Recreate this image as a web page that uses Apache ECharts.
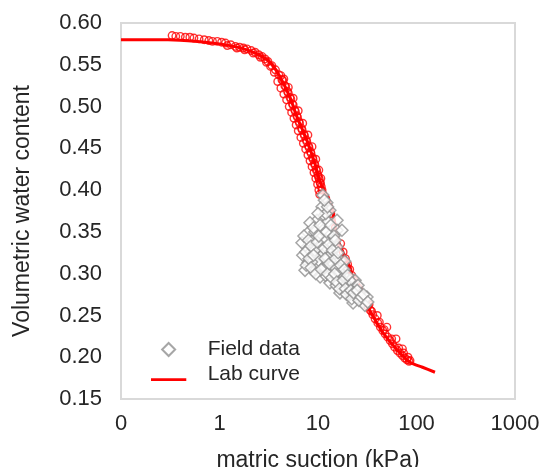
<!DOCTYPE html>
<html>
<head>
<meta charset="utf-8">
<script src="https://cdn.jsdelivr.net/npm/echarts@6/dist/echarts.min.js"></script>
<style>
html,body{margin:0;padding:0;background:#fff;}
#chart{width:542px;height:467px;}
</style>
</head>
<body>
<div id="chart"></div>
<script>
// x-axis tick values (log scale) and y range
var xTicks = [0.1, 1, 10, 100, 1000];
var yTicks = [0.15, 0.20, 0.25, 0.30, 0.35, 0.40, 0.45, 0.50, 0.55, 0.60];

// Lab curve (fitted line): [suction kPa, volumetric water content]
var labCurve = [
  [0.1, 0.580], [0.3, 0.580], [0.6, 0.578], [1.0, 0.575], [1.4, 0.572],
  [2.0, 0.567], [2.6, 0.561], [3.3, 0.552], [4.1, 0.536], [5.2, 0.511],
  [6.1, 0.488], [7.7, 0.460], [9.3, 0.432], [10.5, 0.410], [13.8, 0.379],
  [16.0, 0.340], [21.0, 0.308], [23.0, 0.293], [31.0, 0.263], [46.0, 0.229],
  [68.0, 0.205], [86.0, 0.194], [115.0, 0.188], [154.0, 0.182]
];

// Lab measured points (red open circles)
var labPoints = [
  [0.33, 0.585], [0.36, 0.584], [0.40, 0.584], [0.45, 0.583], [0.50, 0.583],
  [0.55, 0.582], [0.62, 0.581], [0.70, 0.580], [0.78, 0.579], [0.85, 0.578],
  [0.95, 0.578], [1.05, 0.577], [1.15, 0.576], [1.30, 0.574], [1.45, 0.572],
  [1.60, 0.571], [1.75, 0.570], [1.90, 0.569], [2.10, 0.567], [2.30, 0.565],
  [2.50, 0.562], [2.70, 0.560], [2.90, 0.557], [3.10, 0.554], [3.40, 0.549],
  [3.70, 0.544], [4.00, 0.538], [4.30, 0.532], [4.60, 0.525], [4.90, 0.518],
  [5.20, 0.511], [5.50, 0.503], [5.80, 0.496], [6.10, 0.489], [6.40, 0.482],
  [6.80, 0.474], [7.20, 0.467], [7.60, 0.460], [8.00, 0.453], [8.40, 0.446],
  [8.80, 0.439], [9.20, 0.432], [9.60, 0.425], [10.0, 0.418], [10.3, 0.413],
  [10.6, 0.408], [10.8, 0.404], [11.0, 0.400], [12.0, 0.390], [13.5, 0.372],
  [15.0, 0.355], [17.0, 0.336], [19.0, 0.318], [21.0, 0.305], [24.0, 0.288],
  [27.0, 0.276], [30.0, 0.266], [34.0, 0.256], [38.0, 0.246], [43.0, 0.236],
  [48.0, 0.228], [54.0, 0.220], [60.0, 0.212], [68.0, 0.205], [76.0, 0.199],
  [84.0, 0.195],
  [4.5, 0.533], [5.0, 0.523], [5.6, 0.510], [6.3, 0.495], [7.0, 0.480],
  [7.9, 0.466], [8.7, 0.452], [9.5, 0.437], [10.2, 0.424], [10.7, 0.414],
  [33.0, 0.263], [40.0, 0.250], [50.0, 0.236], [62.0, 0.222], [72.0, 0.210],
  [82.0, 0.200],
  [4.2, 0.537], [4.4, 0.531], [4.7, 0.524], [5.0, 0.516], [5.3, 0.509],
  [5.6, 0.502], [5.9, 0.494], [6.2, 0.487], [6.5, 0.480], [6.9, 0.472],
  [7.3, 0.465], [7.7, 0.458], [8.1, 0.451], [8.5, 0.444], [8.9, 0.437],
  [9.3, 0.430], [9.7, 0.423], [10.1, 0.416], [10.5, 0.409],
  [3.9, 0.530], [4.2, 0.522], [4.5, 0.515], [4.8, 0.508], [5.1, 0.500],
  [5.4, 0.493], [5.7, 0.486], [6.0, 0.478], [6.3, 0.471], [6.7, 0.463],
  [7.1, 0.456], [7.5, 0.449], [7.9, 0.442], [8.3, 0.435], [8.7, 0.428],
  [9.1, 0.421], [9.5, 0.414], [9.9, 0.407], [10.2, 0.400], [10.4, 0.395],
  [18.0, 0.326], [20.0, 0.311], [22.0, 0.298], [25.5, 0.283], [28.5, 0.271],
  [32.0, 0.261], [36.0, 0.251], [40.5, 0.241], [45.5, 0.232], [51.0, 0.224],
  [57.0, 0.216], [64.0, 0.208], [72.0, 0.202], [80.0, 0.197],
  [20.0, 0.305], [23.0, 0.292], [26.0, 0.279], [29.0, 0.268], [35.0, 0.255],
  [42.0, 0.242], [47.0, 0.233], [56.0, 0.222], [66.0, 0.211], [74.0, 0.205],
  [86.0, 0.196],
  [1.2, 0.573], [1.5, 0.570], [1.8, 0.568], [2.2, 0.564], [2.6, 0.559],
  [3.0, 0.553], [3.3, 0.548], [3.6, 0.541]
];

// Field data (grey open diamonds)
var fieldData = [
  [11.2, 0.394], [12.3, 0.385], [11.0, 0.380], [13.2, 0.376], [11.2, 0.368],
  [9.77, 0.364], [12.6, 0.362], [15.6, 0.364], [8.29, 0.361], [15.6, 0.352],
  [17.5, 0.352], [7.91, 0.349], [11.2, 0.352], [8.89, 0.340], [14.2, 0.340],
  [7.73, 0.332], [10.5, 0.332], [12.3, 0.328], [15.6, 0.332], [8.29, 0.325],
  [9.77, 0.320], [14.2, 0.320], [16.7, 0.316], [7.91, 0.313], [11.2, 0.313],
  [8.89, 0.304], [13.2, 0.304], [17.9, 0.304], [10.5, 0.296], [15.6, 0.296],
  [19.7, 0.292], [13.2, 0.289], [17.9, 0.284], [22.7, 0.284], [16.7, 0.277],
  [21.1, 0.275], [26.7, 0.277], [22.7, 0.265], [28.6, 0.266], [31.4, 0.272],
  [6.88, 0.337], [7.38, 0.304], [7.0, 0.322], [9.3, 0.350], [10.1, 0.310],
  [11.9, 0.340], [14.2, 0.312], [18.7, 0.315], [15.3, 0.286], [20.2, 0.283],
  [23.8, 0.292], [24.9, 0.271], [30.0, 0.262], [11.9, 0.298], [9.3, 0.328],
  [11.0, 0.322], [10.1, 0.316], [12.6, 0.319], [8.6, 0.314], [11.7, 0.307],
  [14.9, 0.307], [16.7, 0.302], [18.7, 0.297], [21.1, 0.292], [23.8, 0.280],
  [18.7, 0.278], [25.5, 0.286],
  [7.2, 0.345], [7.5, 0.326], [7.6, 0.310], [8.0, 0.340], [8.1, 0.318],
  [8.5, 0.333], [8.5, 0.307], [9.0, 0.355], [9.0, 0.322], [9.5, 0.300],
  [9.8, 0.338], [10.2, 0.345], [10.5, 0.358], [10.8, 0.305], [11.5, 0.330],
  [11.8, 0.318], [12.0, 0.372], [12.2, 0.350], [12.5, 0.300], [12.8, 0.335],
  [13.0, 0.312], [13.5, 0.358], [13.8, 0.295], [14.0, 0.328], [14.5, 0.345],
  [14.8, 0.300], [15.0, 0.318], [15.5, 0.290], [16.0, 0.325], [16.5, 0.282],
  [17.0, 0.310], [15.0, 0.340], [18.0, 0.292], [18.5, 0.305], [19.0, 0.282],
  [19.5, 0.275], [20.0, 0.298], [21.5, 0.280], [22.0, 0.270], [23.0, 0.277],
  [25.0, 0.280], [26.0, 0.268], [27.5, 0.272], [29.0, 0.275], [32.0, 0.266],
  [12.5, 0.380], [11.6, 0.388], [10.0, 0.372]
];

var textColor = '#262626';
var fontFamily = '"Liberation Sans", Arial, sans-serif';
var chart = echarts.init(document.getElementById('chart'), null, {renderer: 'canvas'});
chart.setOption({
  animation: false,
  backgroundColor: '#ffffff',
  textStyle: {fontFamily: fontFamily, color: textColor},
  grid: {
    left: 121, right: 27, top: 23, bottom: 68,
    containLabel: false, outerBoundsMode: 'none',
    show: true, borderColor: '#d9d9d9', borderWidth: 2, backgroundColor: 'transparent'
  },
  legend: {
    orient: 'vertical',
    left: 146, top: 334,
    itemWidth: 38, itemHeight: 13, itemGap: 4,
    symbolKeepAspect: true,
    textStyle: {fontSize: 21, color: textColor, fontFamily: fontFamily, padding: [0, 0, 0, 15]},
    data: [
      {name: 'Field data', icon: 'path://M0,-1L1,0L0,1L-1,0Z'},
      {name: 'Lab curve', icon: 'path://M0,0L0,0M0,11L38,11L38,14L0,14Z'}
    ]
  },
  xAxis: {
    type: 'log', logBase: 10,
    min: xTicks[0], max: xTicks[xTicks.length - 1],
    name: 'matric suction (kPa)', nameLocation: 'middle', nameGap: 50,
    nameTextStyle: {fontSize: 23, color: textColor, fontFamily: fontFamily},
    axisLine: {show: true, lineStyle: {color: '#d9d9d9', width: 2}},
    axisTick: {show: false},
    splitLine: {show: false},
    minorTick: {show: false},
    axisLabel: {
      fontSize: 22, color: textColor, fontFamily: fontFamily, margin: 14,
      formatter: function (v) { return v < 1 ? '0' : String(Math.round(v)); }
    }
  },
  yAxis: {
    type: 'value',
    min: yTicks[0], max: yTicks[yTicks.length - 1], interval: 0.05,
    name: 'Volumetric water content', nameLocation: 'middle', nameGap: 87,
    nameTextStyle: {fontSize: 23, color: textColor, fontFamily: fontFamily},
    axisLine: {show: true, lineStyle: {color: '#d9d9d9', width: 2}},
    axisTick: {show: false},
    splitLine: {show: false},
    axisLabel: {
      fontSize: 22, color: textColor, fontFamily: fontFamily, margin: 19,
      formatter: function (v) { return v.toFixed(2); }
    }
  },
  series: [
    {
      name: 'Lab curve', type: 'line', data: labCurve, smooth: 0.3,
      symbol: 'none', lineStyle: {color: '#ff0000', width: 3}, itemStyle: {color: '#ff0000'},
      z: 2
    },
    {
      name: 'Lab points', type: 'scatter', data: labPoints,
      symbol: 'circle', symbolSize: 7.5,
      itemStyle: {color: 'rgba(255,255,255,0)', borderColor: '#ff0000', borderWidth: 1.4},
      z: 3
    },
    {
      name: 'Field data', type: 'scatter', data: fieldData,
      symbol: 'diamond', symbolSize: 12,
      itemStyle: {color: '#ffffff', borderColor: '#909090', borderWidth: 1.5},
      z: 4
    }
  ]
});
</script>
</body>
</html>
